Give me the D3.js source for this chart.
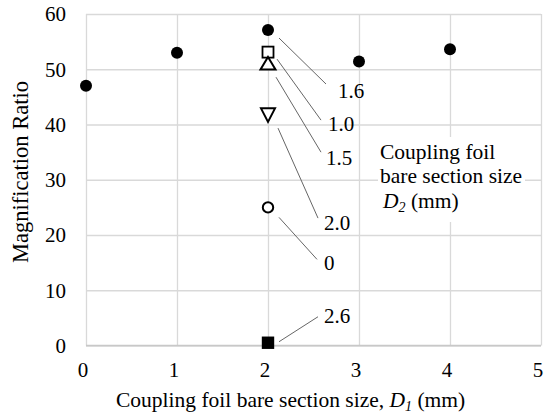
<!DOCTYPE html>
<html>
<head>
<meta charset="utf-8">
<script src="https://cdn.jsdelivr.net/npm/d3@7"></script>
<style>
  html, body { margin: 0; padding: 0; background: #fff; }
  svg { display: block; }
</style>
</head>
<body>
<svg id="chart" width="550" height="413"></svg>
<script>
// ---- data ----
const d1Values = [0, 1, 2, 3, 4];                 // D1 (mm), main series (D2 = 1.6 at D1 = 2)
const ratioValues = [47.0, 53.0, 57.1, 51.4, 53.6];

const d2Labels = ["1.6", "1.0", "1.5", "2.0", "0", "2.6"];   // D2 (mm) at D1 = 2
const d2Ratios = [57.1, 53.1, 51.1, 41.7, 25.0, 0.5];
const d2Markers = ["circleFilled", "square", "triUp", "triDown", "circle", "squareFilled"];
const d2AtD1 = 2;

const xTicks = [0, 1, 2, 3, 4, 5];
const yTicks = [0, 10, 20, 30, 40, 50, 60];

// ---- layout ----
const FONT = "Liberation Serif";
const svg = d3.select("#chart");
const x = d3.scaleLinear().domain([0, 5]).range([86, 541]);
const y = d3.scaleLinear().domain([0, 60]).range([345.5, 14]);

// leader-line offsets relative to marker (pixels)
const leader = {
  "1.6": { s: [11, 8],  e: [58, 54],  t: [70, 68] },
  "1.0": { s: [9, 7],   e: [53, 68],  t: [60, 79] },
  "1.5": { s: [8, 14],  e: [53, 89],  t: [58, 102] },
  "2.0": { s: [10, 13], e: [50, 103], t: [56, 115] },
  "0":   { s: [11, 10], e: [49, 52],  t: [56, 63] },
  "2.6": { s: [11, -1], e: [50, -26], t: [56, -20] }
};

const gridColor = "#d9d9d9";
const fontSize = 21;

// gridlines
const gGrid = svg.append("g");
gGrid.append("g")
  .attr("transform", `translate(${x.range()[0]},0)`)
  .call(d3.axisLeft(y).tickValues(yTicks).tickSize(-(x.range()[1] - x.range()[0])).tickFormat(""))
  .call(g => g.select(".domain").remove())
  .call(g => g.selectAll("line").attr("stroke", gridColor).attr("stroke-width", 1.3));
gGrid.append("g")
  .attr("transform", `translate(0,${y.range()[0]})`)
  .call(d3.axisBottom(x).tickValues(xTicks).tickSize(-(y.range()[0] - y.range()[1])).tickFormat(""))
  .call(g => g.select(".domain").remove())
  .call(g => g.selectAll("line").attr("stroke", gridColor).attr("stroke-width", 1.3));
svg.append("line")
  .attr("x1", x(0)).attr("x2", x(5)).attr("y1", y(0)).attr("y2", y(0))
  .attr("stroke", "#c8c8c8").attr("stroke-width", 1.5);

// tick labels
svg.append("g").selectAll("text").data(yTicks).join("text")
  .style("font-family", FONT)
  .attr("x", 66).attr("y", d => y(d)).attr("dy", "0.35em")
  .attr("text-anchor", "end").attr("font-size", fontSize).attr("fill", "#000")
  .text(d => d);
svg.append("g").selectAll("text").data(xTicks).join("text")
  .style("font-family", FONT)
  .attr("x", d => x(d) - 3).attr("y", 377)
  .attr("text-anchor", "middle").attr("font-size", fontSize).attr("fill", "#000")
  .text(d => d);

// axis titles
const xt = svg.append("text").style("font-family", FONT)
  .attr("x", 116).attr("y", 407).attr("font-size", 21.5).attr("fill", "#000");
xt.append("tspan").text("Coupling foil bare section size, ");
xt.append("tspan").attr("font-style", "italic").text("D");
xt.append("tspan").attr("font-style", "italic").attr("font-size", 14).attr("dy", 4).text("1");
xt.append("tspan").attr("dy", -4).text(" (mm)");

svg.append("text").style("font-family", FONT)
  .attr("transform", "translate(28,172) rotate(-90)")
  .attr("text-anchor", "middle").attr("font-size", 22.5).attr("fill", "#000")
  .text("Magnification Ratio");

// legend box
svg.append("rect").attr("x", 378).attr("y", 137).attr("width", 147).attr("height", 85).attr("fill", "#fff");
const lg = svg.append("g").attr("font-size", 21.5).attr("fill", "#000");
lg.append("text").style("font-family", FONT).attr("x", 380).attr("y", 159).text("Coupling foil");
lg.append("text").style("font-family", FONT).attr("x", 380).attr("y", 183).text("bare section size");
const l3 = lg.append("text").style("font-family", FONT).attr("x", 383).attr("y", 208);
l3.append("tspan").attr("font-style", "italic").text("D");
l3.append("tspan").attr("font-style", "italic").attr("font-size", 14).attr("dy", 4).text("2");
l3.append("tspan").attr("dy", -4).text(" (mm)");

// leader lines and labels
const d2Data = d2Labels.map((l, i) => ({ label: l, v: d2Ratios[i], m: d2Markers[i] }));
const ann = svg.append("g");
d2Data.forEach(d => {
  const px = x(d2AtD1), py = y(d.v), o = leader[d.label];
  ann.append("line")
    .attr("x1", px + o.s[0]).attr("y1", py + o.s[1])
    .attr("x2", px + o.e[0]).attr("y2", py + o.e[1])
    .attr("stroke", "#666").attr("stroke-width", 1);
  ann.append("text").style("font-family", FONT)
    .attr("x", px + o.t[0]).attr("y", py + o.t[1])
    .attr("font-size", fontSize).attr("fill", "#000").text(d.label);
});

// markers
function markerPath(type, cx, cy) {
  if (type === "triUp") {
    const w = 7.5, h = 12.5;
    return `M${cx},${cy - h / 2}L${cx + w},${cy + h / 2}L${cx - w},${cy + h / 2}Z`;
  }
  if (type === "triDown") {
    const w = 7, h = 13.5;
    return `M${cx - w},${cy - h / 2}L${cx + w},${cy - h / 2}L${cx},${cy + h / 2}Z`;
  }
  return "";
}
const mk = svg.append("g");
function drawMarker(type, cx, cy) {
  if (type === "circleFilled") {
    mk.append("circle").attr("cx", cx).attr("cy", cy).attr("r", 6).attr("fill", "#000");
  } else if (type === "circle") {
    mk.append("circle").attr("cx", cx).attr("cy", cy).attr("r", 5.2)
      .attr("fill", "#fff").attr("stroke", "#000").attr("stroke-width", 2);
  } else if (type === "square") {
    mk.append("rect").attr("x", cx - 5.5).attr("y", cy - 5.5).attr("width", 11).attr("height", 11)
      .attr("fill", "#fff").attr("stroke", "#000").attr("stroke-width", 1.8);
  } else if (type === "squareFilled") {
    mk.append("rect").attr("x", cx - 6.2).attr("y", cy - 6.2).attr("width", 12.4).attr("height", 12.4)
      .attr("fill", "#000");
  } else {
    mk.append("path").attr("d", markerPath(type, cx, cy))
      .attr("fill", "#fff").attr("stroke", "#000").attr("stroke-width", 2).attr("stroke-linejoin", "miter");
  }
}
d1Values.forEach((d, i) => drawMarker("circleFilled", x(d), y(ratioValues[i])));
d2Data.forEach(d => { if (d.label !== "1.6") drawMarker(d.m, x(d2AtD1), y(d.v)); });
</script>
</body>
</html>
